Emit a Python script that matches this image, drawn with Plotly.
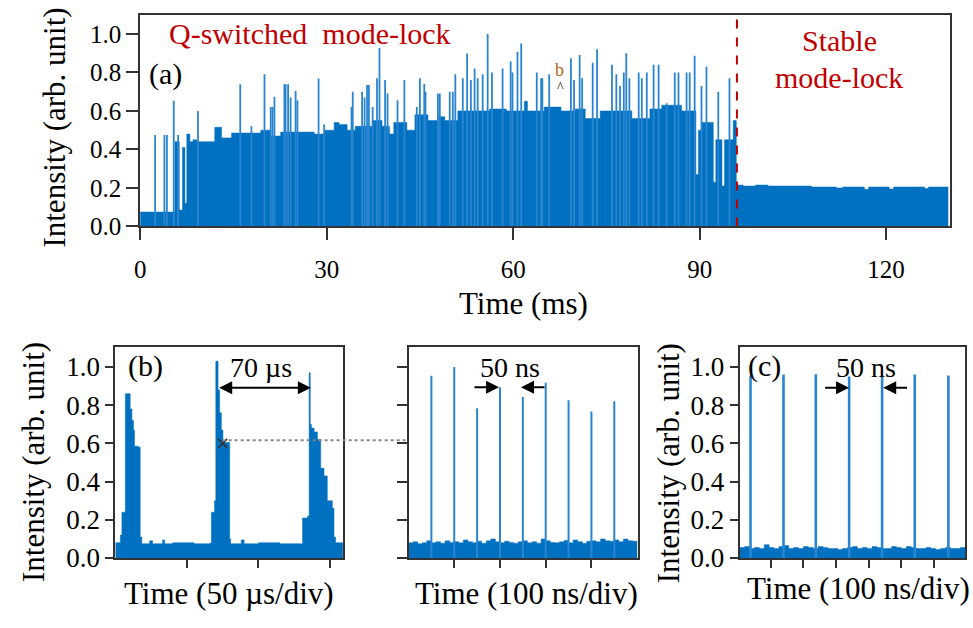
import plotly.graph_objects as go

# ---------------- data ----------------
# Panel (a): Q-switched mode-lock -> stable mode-lock (time in ms)
a_body_t = [0, 5.6, 6.3, 6.8, 7.2, 7.5, 8.0, 8.5, 9.1, 12.0, 13.1, 14.7, 19.4, 21.0, 22.6, 28.0, 29.6, 31.2, 32.0, 33.3,
            34.6, 37.3, 38.9, 40.1, 40.8, 42.9, 44.2, 46.3, 47.9, 49.0, 51.1, 56.2, 58.9, 61.8, 62.3, 65.0, 67.7, 70.0, 71.6, 74.0,
            79.1, 82.0, 83.9, 87.1, 89.4, 89.8, 90.3, 92.2, 92.6, 93.6, 94.0, 95.4, 95.9, 97, 99, 101, 104, 108, 112, 113,
            116.5, 117.2, 120.5, 121.2, 126.2, 126.8, 130]
a_body_v = [0.075, 0.44, 0.085, 0.41, 0.12, 0.48, 0.44, 0.45, 0.44, 0.515, 0.46, 0.485, 0.50, 0.47, 0.49, 0.48, 0.50, 0.54, 0.53, 0.50,
            0.52, 0.55, 0.52, 0.48, 0.54, 0.50, 0.58, 0.55, 0.57, 0.55, 0.60, 0.61, 0.60, 0.65, 0.60, 0.62, 0.60, 0.61, 0.56, 0.60,
            0.56, 0.61, 0.63, 0.60, 0.27, 0.50, 0.54, 0.23, 0.45, 0.21, 0.45, 0.55, 0.215, 0.21, 0.215, 0.21, 0.21, 0.205, 0.20, 0.205,
            0.193, 0.205, 0.195, 0.205, 0.197, 0.205, 0.205]
a_spike_t = [2.4, 3.9, 4.3, 5.4, 6.1, 9.3, 16.1, 17.9, 20.0, 21.0, 21.3, 21.6, 23.2, 23.4, 23.8, 24.2, 25.0, 25.3, 28.7, 29.6,
             34.0, 34.2, 35.7, 36.1, 36.5, 36.8, 37.4, 38.1, 38.5, 39.4, 39.8, 41.4, 42.5, 44.5, 45.0, 45.7, 45.9, 47.9, 48.2, 49.8,
             50.3, 50.7, 51.9, 52.6, 53.2, 53.8, 54.3, 55.1, 55.9, 56.6, 58.3, 59.6, 59.9, 60.7, 61.3, 63.8, 64.5, 64.7, 65.8, 69.3,
             69.8, 70.7, 71.1, 72.8, 73.5, 75.9, 76.6, 77.2, 77.8, 78.2, 78.7, 80.2, 80.7, 81.5, 82.6, 83.4, 84.7, 86.0, 86.6, 87.9,
             88.4, 89.2, 90.3, 91.1, 93.0, 94.8]
a_spike_v = [0.475, 0.475, 0.475, 0.653, 0.475, 0.60, 0.738, 0.52, 0.79, 0.62, 0.62, 0.674, 0.738, 0.738, 0.738, 0.67, 0.704, 0.655, 0.768, 0.53,
             0.62, 0.70, 0.70, 0.67, 0.734, 0.734, 0.62, 0.77, 0.927, 0.76, 0.69, 0.655, 0.76, 0.62, 0.77, 0.74, 0.70, 0.69, 0.69, 0.70,
             0.70, 0.79, 0.77, 0.898, 0.76, 0.82, 0.77, 0.79, 1.0, 0.80, 0.82, 0.856, 0.80, 0.907, 0.95, 0.80, 0.77, 0.77, 0.79, 0.873,
             0.76, 0.89, 0.77, 0.85, 0.92, 0.84, 0.79, 0.73, 0.80, 0.90, 0.77, 0.80, 0.77, 0.80, 0.84, 0.84, 0.64, 0.80, 0.80, 0.80,
             0.80, 0.886, 0.73, 0.83, 0.70, 0.77]
a_switch_t = 96
a_xticks = [0, 30, 60, 90, 120]
y_ticks = [0.0, 0.2, 0.4, 0.6, 0.8, 1.0]

# Panel (b) left: Q-switched envelope (time in us)
b_t = [0, 3.5, 4.6, 7.0, 10.4, 11.6, 12.7, 13.4, 16.2, 17.4, 18.5, 24, 26, 33, 34.5, 40, 55, 66, 67.1, 69.3,
       70.2, 71.8, 72.9, 74.1, 75.2, 79.9, 80.6, 88, 90, 100, 115, 130.8, 134.3, 135.4, 136.2, 137, 138.9, 141.2, 143.5, 145.8,
       148.1, 151.6, 152.8, 153.9, 159]
b_v = [0.08, 0.12, 0.24, 0.86, 0.78, 0.72, 0.67, 0.585, 0.58, 0.11, 0.075, 0.09, 0.075, 0.095, 0.075, 0.08, 0.075, 0.078, 0.24, 0.30,
       1.03, 0.88, 0.76, 0.67, 0.605, 0.10, 0.075, 0.095, 0.075, 0.08, 0.075, 0.21, 0.22, 0.97, 0.70, 0.68, 0.66, 0.62, 0.47, 0.43,
       0.30, 0.26, 0.11, 0.08, 0.08]
b_xticks = [50, 100, 150]

# Panel (b) right: pulses inside the Q-switched envelope (time in ns)
m_pulse_t = [50, 100, 150, 200, 250, 300, 350, 400, 450]
m_pulse_v = [0.954, 1.0, 0.784, 0.894, 0.843, 0.917, 0.826, 0.767, 0.821]
m_noise_step = 10
m_noise_v = [0.08, 0.085, 0.075, 0.08, 0.09, 0.08, 0.085, 0.078, 0.09, 0.082, 0.085, 0.08, 0.095, 0.085, 0.08, 0.088, 0.078,
             0.09, 0.1, 0.085, 0.08, 0.088, 0.082, 0.078, 0.085, 0.09, 0.08, 0.085, 0.078, 0.1, 0.09, 0.082, 0.08, 0.085,
             0.092, 0.08, 0.095, 0.085, 0.078, 0.088, 0.09, 0.085, 0.1, 0.09, 0.088, 0.095, 0.085, 0.1, 0.09, 0.088, 0.085]
m_xticks = [100, 200, 300, 400]

# Panel (c): stable mode-locked pulse train (time in ns)
c_pulse_t = [33, 134, 233, 335, 436, 536, 639]
c_pulse_v = [0.955, 0.96, 0.962, 0.95, 0.955, 0.96, 0.955]
c_noise_step = 15
c_noise_v = [0.055, 0.06, 0.05, 0.055, 0.05, 0.07, 0.055, 0.05, 0.06, 0.065, 0.05, 0.055, 0.05, 0.06, 0.055, 0.05,
             0.06, 0.055, 0.05, 0.05, 0.045, 0.05, 0.055, 0.06, 0.05, 0.055, 0.05, 0.06, 0.055, 0.05, 0.05, 0.06,
             0.055, 0.05, 0.06, 0.055, 0.05, 0.05, 0.055, 0.05, 0.045, 0.05, 0.055, 0.05, 0.05, 0.055, 0.05]
c_xticks = [95, 195, 295, 395, 495, 595]

assert len(a_body_t) == len(a_body_v)
assert len(a_spike_t) == len(a_spike_v)
assert len(b_t) == len(b_v)

# ---------------- styling ----------------
BLUE = "#0070c0"
SPIKE = "#2a85d0"
RED = "#c00000"
SERIF = "Liberation Serif, Times New Roman, DejaVu Serif, serif"
W, H = 973, 628


def px(x):
    return x / W


def py(y):
    return 1 - y / H


def sticks(ts, vs):
    xs, ys = [], []
    for t, v in zip(ts, vs):
        xs += [t, t, None]
        ys += [0, v, None]
    return xs, ys


fig = go.Figure()

# Panel (a)
fig.add_trace(go.Scatter(x=a_body_t, y=a_body_v, mode="lines", line=dict(shape="hv", width=0.5, color=BLUE),
                         fill="tozeroy", fillcolor=BLUE, xaxis="x", yaxis="y", hoverinfo="skip"))
sx, sy = sticks(a_spike_t, a_spike_v)
fig.add_trace(go.Scatter(x=sx, y=sy, mode="lines", line=dict(width=1.8, color=SPIKE), xaxis="x", yaxis="y"))
fig.add_trace(go.Scatter(x=[a_switch_t, a_switch_t], y=[0, 1.1], mode="lines",
                         line=dict(color=RED, width=2, dash="dash"), xaxis="x", yaxis="y"))

# Panel (b) left
fig.add_trace(go.Scatter(x=b_t, y=b_v, mode="lines", line=dict(shape="hv", width=0.5, color=BLUE),
                         fill="tozeroy", fillcolor=BLUE, xaxis="x2", yaxis="y2"))
fig.add_trace(go.Scatter(x=[75], y=[0.6], mode="markers",
                         marker=dict(symbol="x-thin", size=9, line=dict(width=1.5, color="#333")),
                         xaxis="x2", yaxis="y2"))

# Panel (b) right
m_noise_t = [i * m_noise_step for i in range(len(m_noise_v))]
fig.add_trace(go.Scatter(x=m_noise_t, y=m_noise_v, mode="lines", line=dict(shape="hv", width=0.5, color=BLUE),
                         fill="tozeroy", fillcolor=BLUE, xaxis="x3", yaxis="y3"))
sx, sy = sticks(m_pulse_t, m_pulse_v)
fig.add_trace(go.Scatter(x=sx, y=sy, mode="lines", line=dict(width=2, color=SPIKE), xaxis="x3", yaxis="y3"))

# Panel (c)
c_noise_t = [i * c_noise_step for i in range(len(c_noise_v))]
fig.add_trace(go.Scatter(x=c_noise_t, y=c_noise_v, mode="lines", line=dict(shape="hv", width=0.5, color=BLUE),
                         fill="tozeroy", fillcolor=BLUE, xaxis="x4", yaxis="y4"))
sx, sy = sticks(c_pulse_t, c_pulse_v)
fig.add_trace(go.Scatter(x=sx, y=sy, mode="lines", line=dict(width=2.6, color=SPIKE), xaxis="x4", yaxis="y4"))

axis_common = dict(showline=True, mirror=True, linecolor="#333", linewidth=2, showgrid=False, zeroline=False,
                   ticks="outside", tickcolor="#333", tickwidth=2)
top_font = dict(family=SERIF, size=25, color="black")
bot_font = dict(family=SERIF, size=27, color="black")

yb = [py(571.7), py(355)]
fig.update_layout(
    width=W, height=H, margin=dict(l=0, r=0, t=0, b=0),
    paper_bgcolor="white", plot_bgcolor="white", showlegend=False,
    font=dict(family=SERIF),
    xaxis=dict(domain=[px(135), px(950)], range=[0, 130.3], tickvals=a_xticks, ticklen=12,
               tickfont=top_font, ticklabelstandoff=8, anchor="y", **axis_common),
    yaxis=dict(domain=[py(232), py(15)], range=[0, 1.1], tickvals=y_ticks, tickformat=".1f", ticklen=12,
               tickfont=top_font, anchor="x", **axis_common),
    xaxis2=dict(domain=[px(110), px(339)], range=[0, 159], tickvals=b_xticks, showticklabels=False, ticklen=8,
                anchor="y2", **axis_common),
    yaxis2=dict(domain=yb, range=[0, 1.107], tickvals=y_ticks, tickformat=".1f", ticklen=8,
                tickfont=bot_font, anchor="x2", **axis_common),
    xaxis3=dict(domain=[px(405), px(636)], range=[0, 502], tickvals=m_xticks, showticklabels=False, ticklen=8,
                anchor="y3", **axis_common),
    yaxis3=dict(domain=yb, range=[0, 1.107], tickvals=y_ticks, showticklabels=False, ticklen=10,
                anchor="x3", **axis_common),
    xaxis4=dict(domain=[px(738.3), px(965)], range=[0, 690], tickvals=c_xticks, showticklabels=False, ticklen=8,
                anchor="y4", **axis_common),
    yaxis4=dict(domain=yb, range=[0, 1.107], tickvals=y_ticks, tickformat=".1f", ticklen=8,
                tickfont=bot_font, anchor="x4", **axis_common),
)

# dotted guide from (b) envelope into the zoomed pulse train
fig.add_shape(type="line", xref="paper", yref="paper", x0=px(218), x1=px(405), y0=py(451), y1=py(451),
              line=dict(color="#888", width=2, dash="dot"))

ann = []


def txt(text, x, y, size=30, color="black", angle=0, xref="paper", yref="paper"):
    ann.append(dict(text=text, x=x, y=y, xref=xref, yref=yref, showarrow=False, textangle=angle,
                    xanchor="center", yanchor="middle", font=dict(family=SERIF, size=size, color=color)))


# axis titles
txt("Intensity (arb. unit)", px(49), py(131), size=31, angle=-90)
txt("Time (ms)", px(521), py(311), size=31)
txt("Intensity (arb. unit)", px(27.5), py(473), size=31, angle=-90)
txt("Time (50 µs/div)", px(224), py(608), size=31)
txt("Time (100 ns/div)", px(524), py(608), size=31)
txt("Intensity (arb. unit)", px(666.7), py(475), size=31, angle=-90)
txt("Time (100 ns/div)", px(857.5), py(603), size=31)

# panel labels / notes
txt("Q-switched  mode-lock", 27.3, 1.0, color=RED, xref="x", yref="y")
txt("(a)", 4.0, 0.79, xref="x", yref="y")
txt("Stable", 112.5, 0.964, color=RED, xref="x", yref="y")
txt("mode-lock", 112.4, 0.772, color=RED, xref="x", yref="y")
txt("b", 67.5, 0.815, size=18, color="#b8651b", xref="x", yref="y")
txt("^", 67.6, 0.72, size=14, xref="x", yref="y")
txt("(b)", 20.8, 1.005, xref="x2", yref="y2")
txt("70 µs", 101.9, 0.996, size=28, xref="x2", yref="y2")
txt("50 ns", 221, 0.996, size=28, xref="x3", yref="y3")
txt("(c)", 75, 1.005, xref="x4", yref="y4")
txt("50 ns", 385.6, 0.996, size=28, xref="x4", yref="y4")


def arrow(x0, x1, y, xr, yr, both=False):
    ann.append(dict(x=x1, y=y, ax=x0, ay=y, xref=xr, yref=yr, axref=xr, ayref=yr, text="", showarrow=True,
                    arrowhead=2, startarrowhead=2, arrowsize=1.3, startarrowsize=1.3, arrowwidth=2,
                    arrowcolor="black", arrowside="end+start" if both else "end"))


arrow(71.5, 136.6, 0.891, "x2", "y2", both=True)
arrow(141, 198, 0.894, "x3", "y3")
arrow(300.7, 246, 0.894, "x3", "y3")
arrow(256.8, 334.7, 0.891, "x4", "y4")
arrow(517, 439.4, 0.891, "x4", "y4")

fig.update_layout(annotations=ann)
fig.write_html("out.html")
